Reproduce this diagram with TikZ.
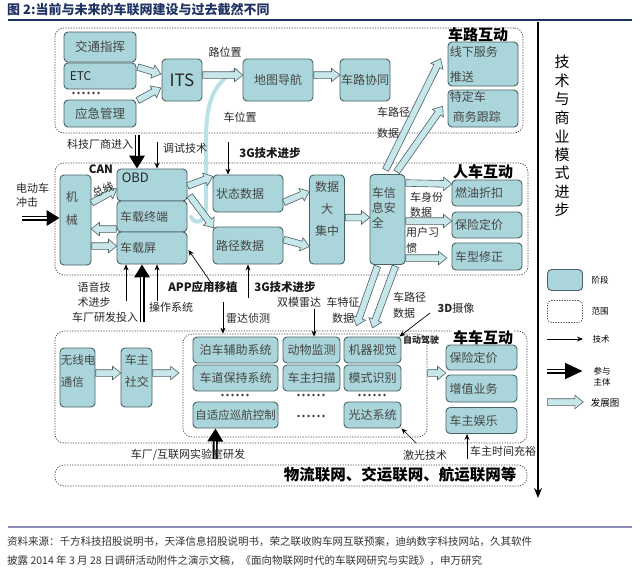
\documentclass[tikz,border=0pt]{standalone}
\usepackage{fontspec}
\setmainfont{Noto Sans CJK SC}
\usetikzlibrary{calc,arrows.meta,shapes.arrows}

\definecolor{boxfill}{RGB}{170,213,218}
\definecolor{boxline}{RGB}{72,98,102}
\definecolor{boxtext}{RGB}{70,70,70}
\definecolor{arrfill}{RGB}{200,231,235}
\definecolor{arrline}{RGB}{78,96,100}
\definecolor{trailc}{RGB}{186,226,230}
\definecolor{titleblue}{RGB}{33,52,100}
\definecolor{footline}{RGB}{140,140,185}

\tikzset{
  stage/.style={draw=boxline, fill=boxfill, rounded corners=4pt, line width=0.9pt,
    inner sep=1pt, text=boxtext, font=\fontsize{12}{14}\selectfont},
  lstage/.style={stage, text width=64pt, align=left, inner xsep=3pt},
  tl/.style={anchor=north west, align=left, inner sep=2pt, text=boxtext,
    font=\fontsize{12}{14}\selectfont},
  zonebox/.style={draw=black!70, dash pattern=on 1.3pt off 1.3pt, line width=0.7pt,
    rounded corners=9pt, inner sep=0pt},
  devshape/.style={shape=single arrow, draw=arrline, fill=arrfill, line width=0.6pt,
    inner xsep=0pt, inner ysep=3pt, single arrow head extend=3.5pt,
    single arrow tip angle=78, minimum width=0pt},
  techarr/.style={-{Stealth[length=6pt,width=5pt]}, line width=0.7pt},
  partarr/.style={line width=5pt, -{Triangle[length=#1,width=15pt]},
    postaction={draw=white, line width=1.2pt, shorten >=#1, -}},
  partarr/.default=13pt,
  trail/.style={trailc, line width=4pt, line cap=round},
  lbl/.style={font=\fontsize{11}{15}\selectfont, inner sep=0pt, text=black!85},
  blbl/.style={font=\bfseries\fontsize{11.5}{14}\selectfont, inner sep=0pt, text=black!90},
  zone/.style={font=\bfseries\fontsize{15}{17}\selectfont, inner sep=1pt},
  legtext/.style={font=\fontsize{8.5}{11}\selectfont, inner sep=0pt, align=center},
  vtext/.style={font=\fontsize{15}{17}\selectfont, inner sep=0pt},
  foot/.style={font=\fontsize{10.5}{12}\selectfont, inner sep=0pt, text=black!80},
}

% light blue block arrow between two points
\newcommand\devarr[2]{%
  \coordinate (dva) at (#1);
  \coordinate (dvb) at (#2);
  \path let \p1=($(dvb)-(dva)$), \n1={atan2(\y1,\x1)}, \n2={veclen(\x1,\y1)} in
    node[devshape, anchor=tail, rotate=\n1, minimum height=\n2] at (dva) {};
}
% row of six dots
\newcommand\dotrow[2]{%
  \foreach \k in {0,...,5} \fill[black!75] ({#1-12.5+5*\k},#2) circle (1.3pt);
}

\begin{document}
\begin{tikzpicture}[x=1pt,y=-1pt]
\path[fill=white, use as bounding box] (0,0) rectangle (640,571);

% title
\node[anchor=west, inner sep=0pt, text=titleblue, font=\bfseries\fontsize{13}{15}\selectfont] (title) at (7,10) {图 2:当前与未来的车联网建设与过去截然不同};
\draw[titleblue, line width=1.2pt] (8,20) -- (632,20);

% zones
\node[zonebox, minimum width=468, minimum height=105] (roadzone) at (289,80.5) {};
\node[zonebox, minimum width=473, minimum height=112] (carzone) at (291.5,219) {};
\node[zonebox, minimum width=472, minimum height=112] (vehzone) at (291,387) {};
\node[zonebox, minimum width=244, minimum height=103] (sensor) at (305,385.5) {};
\node[zonebox, minimum width=472, minimum height=21] (logzone) at (291,475.5) {};

\node[zone] (roadlbl) at (478,35) {车路互动};
\node[zone, fill=white] (carlbl) at (483,172) {人车互动};
\node[zone, fill=white] (vehlbl) at (483,338) {车车互动};
\node[zone, font=\bfseries\fontsize{15.5}{17}\selectfont] (loglbl) at (400,475) {物流联网、交运联网、航运联网等};

% vehicle position trail
\draw[trail] (236,70) .. controls (212,84) and (206,105) .. (206,140) -- (206,205) .. controls (206,222) and (196,226) .. (191,217);

%%%%% road %%%%%
\node[stage, minimum width=72, minimum height=30, font=\fontsize{12.5}{14}\selectfont] (traffic) at (100,47) {交通指挥};
\node[stage, minimum width=72, minimum height=26, label={[tl, anchor=west, xshift=4pt, text=black!85]west:ETC}] (etc) at (100,76) {};
\dotrow{86}{93}
\node[stage, minimum width=72, minimum height=27, font=\fontsize{12.5}{14}\selectfont] (emerg) at (100,113.5) {应急管理};
\node[stage, minimum width=40, minimum height=42, text=black!85, font=\fontsize{17}{19}\selectfont] (its) at (182,80) {ITS};
\node[stage, minimum width=70, minimum height=42] (navi) at (278,80) {地图导航};
\node[stage, minimum width=50, minimum height=42, inner sep=0pt] (coop) at (365,80) {车路协同};
\node[stage, minimum width=70, minimum height=44, label={[tl, yshift=-3pt, font=\fontsize{12}{25}\selectfont]north west:线下服务\\推送}] (offline) at (483,64) {};
\node[stage, minimum width=70, minimum height=37, label={[tl, font=\fontsize{12}{20}\selectfont]north west:特定车\\\hspace*{3pt}商务跟踪}] (track) at (483,108.5) {};

%%%%% people and car %%%%%
\node[stage, minimum width=31, minimum height=90, label={[tl, xshift=4pt, yshift=-15pt, font=\fontsize{12}{23}\selectfont]north west:机\\械}] (mech) at (75.5,220) {};
\node[stage, minimum width=70, minimum height=32, label={[tl, xshift=3pt, yshift=-2pt, text=black!85, font=\fontsize{13}{15}\selectfont]north west:OBD}] (obd) at (152,185) {};
\node[lstage, minimum width=70, minimum height=31] (term) at (152,216.5) {车载终端};
\node[lstage, minimum width=70, minimum height=32] (screen) at (152,248) {车载屏};
\node[lstage, minimum width=70, minimum height=37] (state) at (248,193.5) {状态数据};
\node[lstage, minimum width=70, minimum height=37] (route) at (248,245.5) {路径数据};
\node[stage, minimum width=35, minimum height=89, label={[tl, anchor=north, align=center, yshift=-5pt, font=\fontsize{12}{22}\selectfont]north:数据\\大\\集中}] (bigdata) at (327,219.5) {};
\node[stage, minimum width=35, minimum height=90, label={[tl, yshift=-11pt, font=\fontsize{12}{15}\selectfont]north west:车信\\息安\\全}] (secure) at (387.5,219.5) {};
\node[lstage, minimum width=70, minimum height=26] (fuel) at (487,193) {燃油折扣};
\node[lstage, minimum width=70, minimum height=26] (insur) at (487,225) {保险定价};
\node[lstage, minimum width=70, minimum height=27] (model) at (487,256.5) {车型修正};

%%%%% car and car %%%%%
\node[stage, minimum width=35, minimum height=59, label={[tl, xshift=-1pt, yshift=-5pt, font=\fontsize{11.5}{22}\selectfont]north west:无线电\\通信}] (radio) at (77.5,377.5) {};
\node[stage, minimum width=31, minimum height=59, label={[tl, xshift=2pt, yshift=-5pt, font=\fontsize{12}{22}\selectfont]north west:车主\\社交}] (social) at (136.5,377.5) {};
\node[stage, minimum width=85, minimum height=26] (park) at (235.5,350) {泊车辅助系统};
\node[stage, minimum width=85, minimum height=26] (lane) at (235.5,378) {车道保持系统};
\node[stage, minimum width=85, minimum height=26, font=\fontsize{11.5}{13}\selectfont] (acc) at (235.5,415) {自适应巡航控制};
\node[stage, minimum width=57, minimum height=26] (animal) at (311.5,350) {动物监测};
\node[stage, minimum width=57, minimum height=26] (scan) at (311.5,378) {车主扫描};
\node[stage, minimum width=57, minimum height=26] (vision) at (372.5,350) {机器视觉};
\node[stage, minimum width=57, minimum height=26] (pattern) at (372.5,378) {模式识别};
\node[stage, minimum width=57, minimum height=26] (lidar) at (372.5,415) {光达系统};
\dotrow{235}{395}
\dotrow{311}{395}
\dotrow{372}{395}
\dotrow{311}{416}
\node[lstage, minimum width=71, minimum height=25] (insurb) at (481.5,357.5) {保险定价};
\node[lstage, minimum width=71, minimum height=27] (value) at (481.5,388.5) {增值业务};
\node[lstage, minimum width=71, minimum height=26] (enjoy) at (481.5,420.5) {车主娱乐};

%%%%% block arrows %%%%%
\devarr{$(etc.east)+(1,-9)$}{$(its.west)+(-1,-6)$}
\devarr{$(emerg.north east)+(1,1)$}{$(its.west)+(-1,8)$}
\devarr{$(its.east)+(0,-5)$}{$(navi.west)+(0,-5)$}
\devarr{$(navi.east)+(0,-5)$}{$(coop.west)+(0,-5)$}
\devarr{$(mech.east)+(0,-17)$}{$(obd.west)+(0,4)$}
\devarr{$(screen.west)+(0,-19)$}{$(mech.east)+(0,9)$}
\devarr{$(mech.east)+(0,26)$}{$(screen.west)+(0,-2)$}
\devarr{$(obd.east)+(0,1)$}{$(state.west)+(0,-17)$}
\devarr{$(obd.south east)+(2,-6)$}{$(route.north west)+(1,1)$}
\devarr{$(state.east)+(0,9)$}{$(bigdata.west)+(0,-28)$}
\devarr{$(route.east)+(0,-6)$}{$(bigdata.west)+(0,27)$}
\devarr{$(bigdata.east)+(0,-2)$}{$(secure.west)+(0,-2)$}
\devarr{$(secure.east)+(0,-36.5)$}{$(fuel.west)+(0,-9)$}
\devarr{$(secure.east)+(0,1.5)$}{$(insur.west)+(0,-4)$}
\devarr{$(secure.east)+(0,38.5)$}{$(model.west)+(-5,1.5)$}
\devarr{$(secure.north)+(-2,-4)$}{$(offline.west)+(-7,-5)$}
\devarr{$(secure.north)+(9,-2)$}{$(track.west)+(-5,-2)$}
\devarr{$(secure.south)+(-10,1)$}{$(vision.north)+(-16,-11)$}
\devarr{$(secure.south)+(8,1)$}{$(vision.north)+(0,-9)$}
\devarr{$(radio.east)+(0,-4.5)$}{$(social.west)+(0,-4.5)$}
\devarr{$(social.east)+(0,-4.5)$}{$(sensor.west)+(-4,-12.5)$}
\devarr{$(sensor.east)+(0,-12.5)$}{$(value.west)+(0,-15.5)$}

%%%%% players %%%%%
\coordinate (vendor) at (137,135);
\draw[partarr] (vendor) -- ($(obd.north)+(-15,0)$);
\coordinate (evsrc) at (22,218);
\draw[partarr] (evsrc) -- ($(mech.west)+(0,-2)$);
\coordinate (oemsrc) at (142,322);
\draw[partarr] (oemsrc) -- ($(screen.south)+(-10,0)$);
\coordinate (labsrc) at (215,459);
\draw[partarr] (labsrc) -- ($(acc.south)+(-20,0)$);

%%%%% technology %%%%%
\coordinate (dbgsrc) at (157,142);
\draw[techarr] (dbgsrc) -- ($(obd.north)+(5,0)$);
\coordinate (gtopsrc) at (228,142);
\draw[techarr] (gtopsrc) -- ($(state.north)+(-20,0)$);
\coordinate (voicesrc) at (126,301);
\draw[techarr] (voicesrc) -- ($(screen.south)+(-26,0)$);
\coordinate (ossrc) at (157,301);
\draw[techarr] (ossrc) -- ($(screen.south)+(5,0)$);
\coordinate (appsrc) at (212,284);
\draw[techarr] (appsrc) -- ($(screen.east)+(1,2)$);
\coordinate (gbotsrc) at (248,298);
\draw[techarr] (gbotsrc) -- (route.south);
\coordinate (radarsrc) at (223,302);
\draw[techarr] (radarsrc) -- ($(sensor.north)+(-82,0)$);
\coordinate (dualsrc) at (314,309);
\draw[techarr] (dualsrc) -- ($(animal.north)+(2.5,0)$);
\coordinate (camsrc) at (430,313);
\draw[techarr] (camsrc) -- ($(vision.north east)+(-2,0)$);
\coordinate (lasersrc) at (416,443);
\draw[techarr] (lasersrc) -- (lidar.south east);
\coordinate (sparesrc) at (467,459);
\draw[techarr] (sparesrc) -- ($(enjoy.south)+(-14.5,0)$);

%%%%% labels %%%%%
\node[lbl] (roadpos) at (225,52) {路位置};
\node[lbl] (carpos) at (240,117) {车位置};
\node[lbl] (techin) at (100,144) {科技厂商进入};
\node[lbl] (debug) at (185,148) {调试技术};
\node[blbl] (gtop) at (270,153) {3G技术进步};
\node[lbl, align=left, anchor=west, font=\fontsize{11}{14}\selectfont] (ev) at (16,195) {电动车\\冲击};
\node[blbl] (can) at (101,169) {CAN};
\node[lbl, rotate=20] (bus) at (103,190) {总线};
\node[lbl, align=left, anchor=north west] (idlbl) at (410,192) {车身份\\数据};
\node[lbl, align=left, anchor=north west, font=\fontsize{11}{16}\selectfont] (habit) at (406,227) {用户习\\惯};
\node[lbl, align=left, anchor=north west, font=\fontsize{11}{21}\selectfont] (rdtop) at (377,107) {车路径\\数据};
\node[lbl, align=center] (voice) at (94,294.5) {语音技\\术进步};
\node[lbl] (oemin) at (105,317) {车厂研发投入};
\node[lbl] (os) at (171,307) {操作系统};
\node[blbl] (app) at (203,287) {APP应用移植};
\node[blbl] (gbot) at (285,287) {3G技术进步};
\node[lbl] (radar) at (248,318) {雷达侦测};
\node[lbl] (dual) at (299,302) {双模雷达};
\node[lbl, align=center, font=\fontsize{11}{16}\selectfont] (feat) at (343,310) {车特征\\数据};
\node[lbl, align=left, anchor=north west, font=\fontsize{11}{16}\selectfont] (rdbot) at (393,292) {车路径\\数据};
\node[lbl] (cam) at (456,308) {{\bfseries 3D}摄像};
\node[lbl, font=\bfseries\fontsize{9}{10}\selectfont] (autodrv) at (421,340) {自动驾驶};
\node[lbl] (laser) at (425,455) {激光技术};
\node[lbl, anchor=west] (spare) at (470,451) {车主时间充裕};
\node[lbl] (lab) at (188,455) {车厂/互联网实验室研发};

%%%%% progress axis %%%%%
\coordinate (axtop) at (538,22);
\coordinate (axbot) at (538,498);
\draw[line width=2.2pt, -{Stealth[length=10pt,width=8pt]}] (axtop) -- (axbot);
\foreach \c [count=\i] in {技,术,与,商,业,模,式,进,步}
  \node[vtext] (vt\i) at (562,{43.5+18.5*\i}) {\c};

%%%%% legend %%%%%
\node[stage, minimum width=35, minimum height=21] (legstage) at (565,280) {};
\node[zonebox, minimum width=35, minimum height=22, rounded corners=4pt] (legrange) at (565,311.5) {};
\coordinate (legta) at (547,339);
\coordinate (legtb) at (583,339);
\draw[techarr] (legta) -- (legtb);
\coordinate (legpa) at (547,371);
\coordinate (legpb) at (583,371);
\draw[partarr=18pt] (legpa) -- (legpb);
\devarr{547,402}{583,402}
\node[legtext] (legstagetxt) at (600,280) {阶段};
\node[legtext] (legrangetxt) at (600,311) {范围};
\node[legtext] (legtechtxt) at (601,339) {技术};
\node[legtext] (legparttxt) at (602,377) {参与\\主体};
\node[legtext, font=\fontsize{9.5}{11}\selectfont] (legdevtxt) at (605,403) {发展图};

%%%%% source %%%%%
\draw[footline, line width=1.5pt] (8,527) -- (632,527);
\node[foot, anchor=west] (srca) at (7,542) {资料来源：千方科技招股说明书，天泽信息招股说明书，荣之联收购车网互联预案，迪纳数字科技网站，久其软件};
\node[foot, anchor=west] (srcb) at (7,561) {披露 2014 年 3 月 28 日调研活动附件之演示文稿，《面向物联网时代的车联网研究与实践》，申万研究};
\end{tikzpicture}
\end{document}
